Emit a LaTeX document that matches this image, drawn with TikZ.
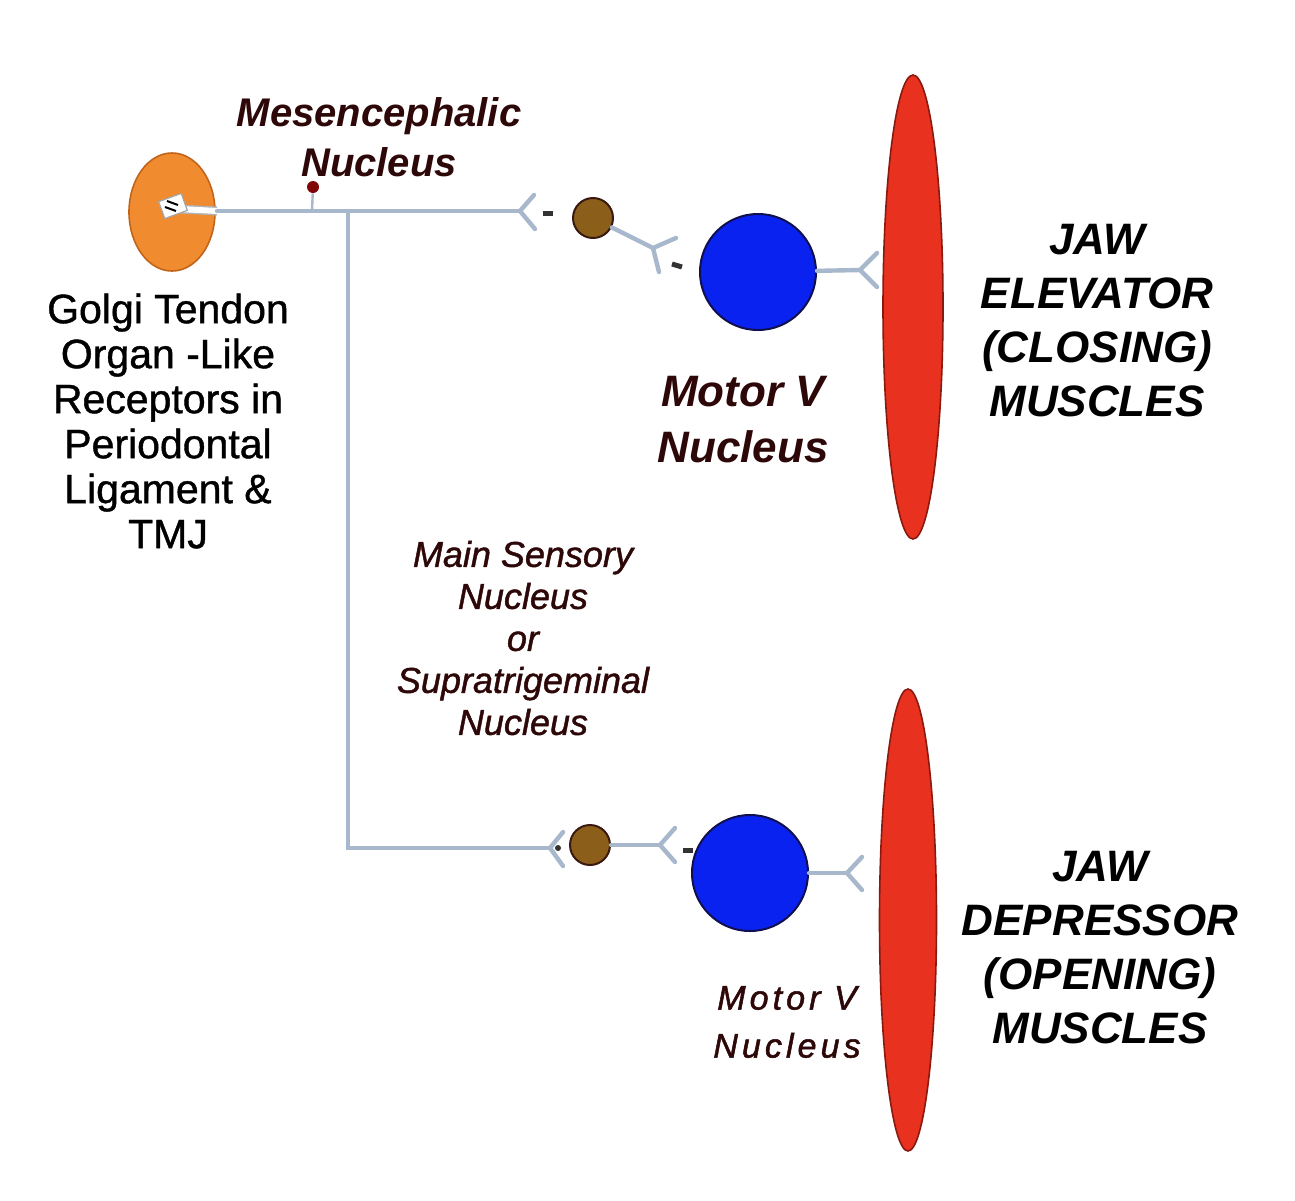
\documentclass[tikz,border=0pt]{standalone}
\usepackage{fontspec}
\setmainfont{Liberation Sans}
\usetikzlibrary{shapes.geometric}
\definecolor{axonc}{HTML}{A8B8CC}
\definecolor{lblred}{HTML}{2E0808}
\definecolor{orangef}{HTML}{F18B2F}
\definecolor{oranged}{HTML}{C0651A}
\definecolor{brownf}{HTML}{8B5E1A}
\definecolor{brownd}{HTML}{3A1A10}
\definecolor{bluef}{HTML}{0A22F0}
\definecolor{blued}{HTML}{101050}
\definecolor{redf}{HTML}{E8321F}
\definecolor{redd}{HTML}{8A1A10}
\begin{document}
\begin{tikzpicture}[x=0.5pt,y=-0.5pt,
  axon/.style={draw=axonc,line width=2.2pt,line cap=round},
  fork/.style={draw=axonc,line width=2.2pt,line cap=round},
  dashmark/.style={draw=black!80,line width=2.5pt},
  interneuron/.style={circle,fill=brownf,draw=brownd,line width=1pt,minimum size=20pt,inner sep=0pt},
  motorneuron/.style={circle,fill=bluef,draw=blued,line width=1pt,minimum size=58pt,inner sep=0pt},
  muscle/.style={ellipse,fill=redf,draw=redd,line width=0.8pt,inner sep=0pt},
  lbl/.style={align=center,inner sep=0pt},
]
\useasboundingbox (0,0) rectangle (1295,1200);
\fill[white] (0,0) rectangle (1295,1200);

% receptor organ
\node[ellipse,fill=orangef,draw=oranged,line width=0.8pt,minimum width=43pt,minimum height=59pt,inner sep=0pt] (organ) at (172,212) {};
\coordinate (recend) at (217,211);
\draw[line width=4.5pt,draw=gray!60] (180,209) -- (recend);
\draw[line width=3pt,draw=white] (180,209) -- (recend);
\node[draw=gray!70,fill=white,line width=0.6pt,minimum width=12pt,minimum height=9pt,inner sep=0pt,rotate=20] (recep) at (173,206) {};
\draw[black,line width=1pt] (167,201) -- (178,205) (165,207) -- (176,211);

% axon paths
\coordinate (j1) at (312,211);
\coordinate (j2) at (348,211);
\coordinate (f1) at (520,211);
\coordinate (cor) at (348,848);
\coordinate (f4) at (550,848);
\draw[axon] (recend) -- (f1);
\draw[axon] (j2) -- (cor) -- (f4);

% mesencephalic dot
\node[circle,fill=lblred!60!red,minimum size=6pt,inner sep=0pt] (mdot) at (313,187) {};
\draw[draw=axonc,line width=1.2pt] (mdot) -- (j1);

% top chain
\draw[fork] (f1) -- ++(14,-16) (f1) -- ++(15,18);
\draw[dashmark] (543,213) -- (553,213);
\node[interneuron] (in1) at (593,218) {};
\coordinate (f2) at (653,248);
\draw[axon] (in1) -- (f2);
\draw[fork] (f2) -- (676,238) (f2) -- (659,272);
\draw[dashmark] (672,264) -- (682,267);
\node[motorneuron] (mn1) at (758,272) {};
\coordinate (f3) at (860,270);
\draw[axon] (mn1) -- (f3);
\draw[fork] (f3) -- (877,253) (f3) -- (877,287);
\node[muscle,minimum width=30pt,minimum height=232pt] (mus1) at (913,307) {};

% bottom chain
\draw[fork] (f4) -- (563,832) (f4) -- (563,866);
\fill[black!80] (558,848) circle (1.5pt);
\node[interneuron] (in2) at (590,845) {};
\coordinate (f5) at (660,845);
\draw[axon] (in2) -- (f5);
\draw[fork] (f5) -- (675,828) (f5) -- (675,862);
\draw[dashmark] (683,850) -- (693,850);
\node[motorneuron] (mn2) at (750,873) {};
\coordinate (f6) at (847,873);
\draw[axon] (mn2) -- (f6);
\draw[fork] (f6) -- (862,857) (f6) -- (862,890);
\node[muscle,minimum width=28.5pt,minimum height=231pt] (mus2) at (908,920) {};

% labels
\node[lbl,text=lblred,font=\fontsize{20}{25}\selectfont\bfseries\itshape] (mesl) at (379,137) {Mesencephalic\\Nucleus};
\node[lbl,text=black,font=\fontsize{20.5}{22.5}\selectfont\addfontfeature{FakeBold=1}] (golgi) at (168,421) {Golgi Tendon\\Organ -Like\\Receptors in\\Periodontal\\Ligament \&\\TMJ};
\node[lbl,text=lblred,font=\fontsize{22}{28}\selectfont\bfseries\itshape] (mv1) at (743,420) {Motor V\\Nucleus};
\node[lbl,text=lblred,font=\fontsize{18}{21}\selectfont\itshape\addfontfeature{FakeBold=1.2}] (msn) at (523,638) {Main Sensory\\Nucleus\\or\\Supratrigeminal\\Nucleus};
\node[lbl,text=black,font=\fontsize{22}{27}\selectfont\bfseries\itshape] (jaw1) at (1097,321) {JAW\\ELEVATOR\\(CLOSING)\\MUSCLES};
\node[lbl,text=black,font=\fontsize{22}{27}\selectfont\bfseries\itshape] (jaw2) at (1100,948) {JAW\\DEPRESSOR\\(OPENING)\\MUSCLES};
\node[lbl,text=lblred,font=\fontsize{17}{24}\selectfont\itshape\addfontfeature{LetterSpace=12,FakeBold=1.5}] (mv2) at (787,1022) {Motor V\\Nucleus};
\end{tikzpicture}
\end{document}
